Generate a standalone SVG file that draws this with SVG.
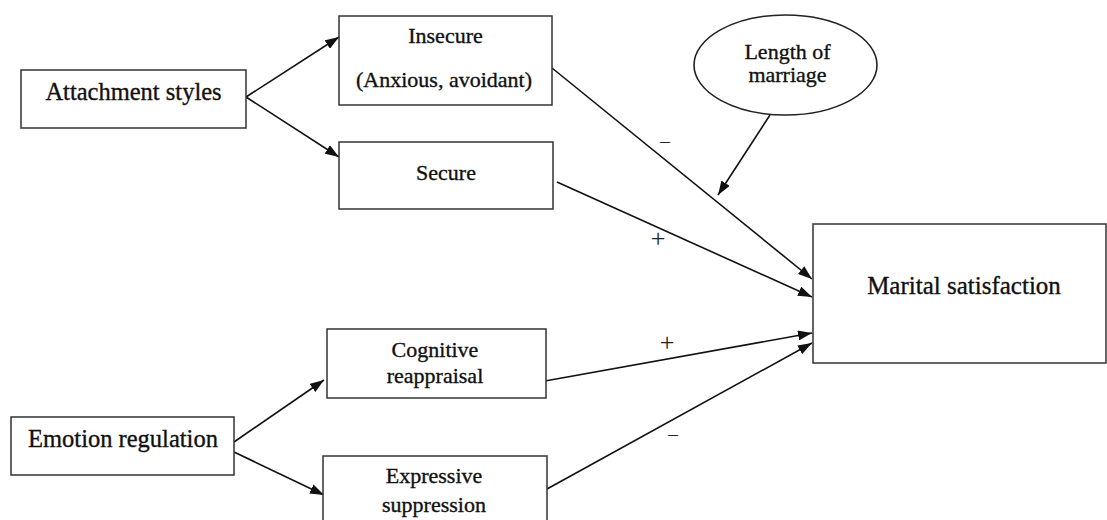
<svg xmlns="http://www.w3.org/2000/svg" width="1107" height="520" viewBox="0 0 1107 520" font-family="Liberation Serif, DejaVu Serif, serif">
<defs>
<style>
.box{fill:#fff;stroke:#333;stroke-width:1.5}
.t{fill:#111;stroke:#111;stroke-width:0.35;text-anchor:middle}
.big{font-size:24.5px}
.mid{font-size:22px}
.plus{fill:#222;font-size:26px;text-anchor:middle}
.dash{fill:#222;font-size:19px;text-anchor:middle}
.c{stroke:#111;stroke-width:1.6;fill:none;marker-end:url(#ah)}
</style>
<marker id="ah" viewBox="0 0 14 10" refX="14" refY="5" markerWidth="14" markerHeight="10" orient="auto" markerUnits="userSpaceOnUse"><path d="M0,0 L14,5 L0,10 z" fill="#111"/></marker>
</defs>
<rect width="1107" height="520" fill="#fff"/>
<g id="connectors">
<line class="c" x1="246" y1="97" x2="339" y2="37"/>
<line class="c" x1="246" y1="97" x2="339" y2="157"/>
<line class="c" x1="234" y1="442" x2="324" y2="380"/>
<line class="c" x1="234" y1="452" x2="324" y2="495"/>
<line class="c" x1="552" y1="68" x2="812" y2="279"/>
<line class="c" x1="557" y1="182" x2="812" y2="297"/>
<line class="c" x1="545" y1="381" x2="812" y2="333"/>
<line class="c" x1="547" y1="489" x2="812" y2="343"/>
<line class="c" x1="770" y1="115" x2="718" y2="195"/>
<text class="dash" x="665" y="147">–</text>
<text class="plus" x="658" y="247">+</text>
<text class="plus" x="667" y="351">+</text>
<text class="dash" x="673" y="440">–</text>
</g>
<g id="attachment">
<rect class="box" x="21" y="70" width="225" height="58"/>
<text class="t big" x="133.5" y="100">Attachment styles</text>
</g>
<g id="insecure">
<rect class="box" x="339" y="16" width="213" height="89"/>
<text class="t mid" x="445.5" y="43">Insecure</text>
<text class="t mid" x="444" y="87">(Anxious, avoidant)</text>
</g>
<g id="secure">
<rect class="box" x="339" y="142" width="214" height="67"/>
<text class="t mid" x="446" y="180">Secure</text>
</g>
<g id="length">
<ellipse cx="785.5" cy="65" rx="91.5" ry="50" fill="#fff" stroke="#222" stroke-width="1.6"/>
<text class="t mid" x="787.5" y="59">Length of</text>
<text class="t mid" x="787.5" y="82">marriage</text>
</g>
<g id="marital">
<rect class="box" x="813" y="224" width="293" height="139"/>
<text class="t" x="964" y="294" font-size="25">Marital satisfaction</text>
</g>
<g id="emotion">
<rect class="box" x="11" y="417" width="223" height="58"/>
<text class="t big" x="123" y="447">Emotion regulation</text>
</g>
<g id="cognitive">
<rect class="box" x="327" y="329" width="219" height="69"/>
<text class="t mid" x="435" y="357">Cognitive</text>
<text class="t mid" x="435" y="383">reappraisal</text>
</g>
<g id="expressive">
<rect class="box" x="323" y="456" width="224" height="80"/>
<text class="t mid" x="434" y="483">Expressive</text>
<text class="t mid" x="434" y="512">suppression</text>
</g>
</svg>
